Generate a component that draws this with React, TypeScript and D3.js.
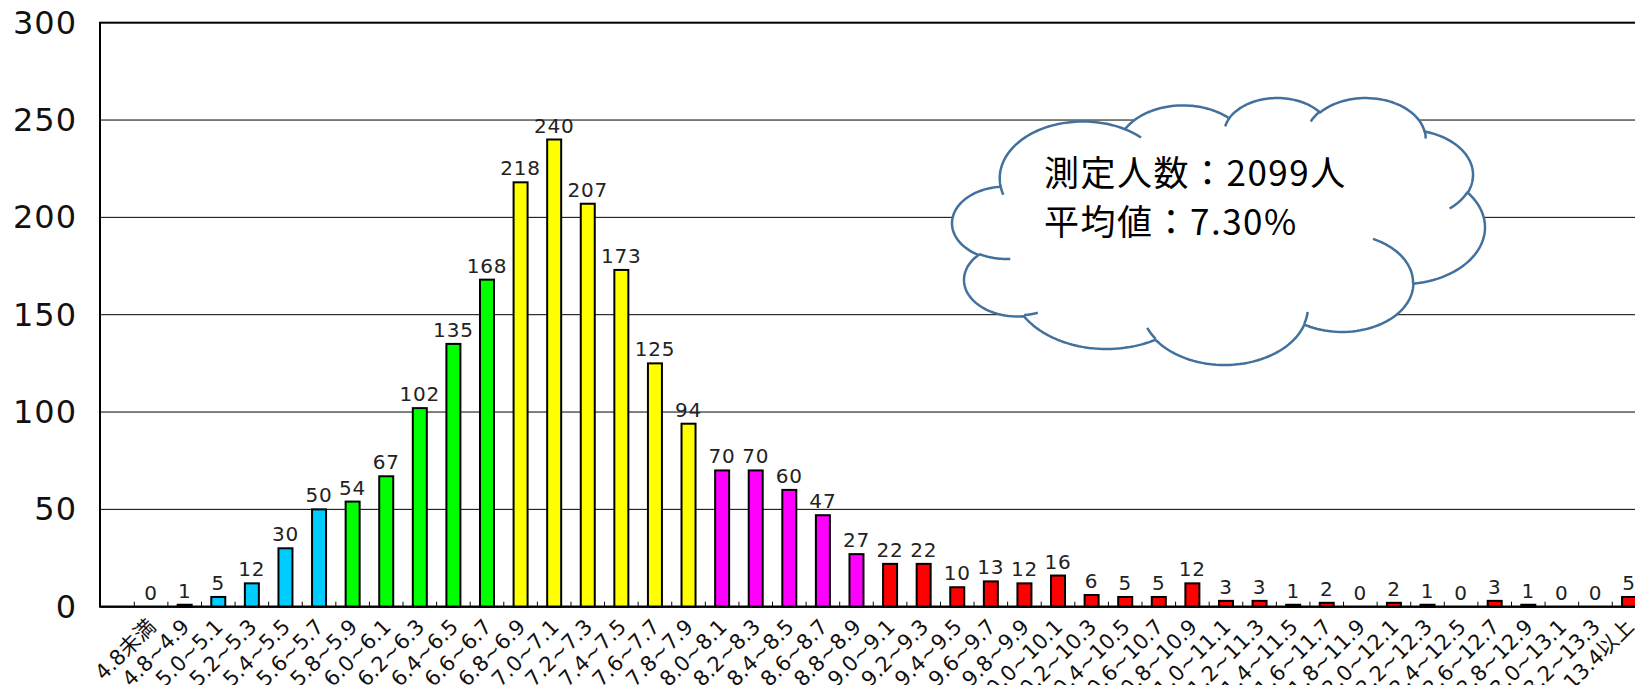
import * as d3 from "d3";
import { FC } from "react";

const CATEGORIES: string[] = [
  "4.8未満", "4.8~4.9", "5.0~5.1", "5.2~5.3", "5.4~5.5", "5.6~5.7", "5.8~5.9",
  "6.0~6.1", "6.2~6.3", "6.4~6.5", "6.6~6.7", "6.8~6.9", "7.0~7.1", "7.2~7.3",
  "7.4~7.5", "7.6~7.7", "7.8~7.9", "8.0~8.1", "8.2~8.3", "8.4~8.5", "8.6~8.7",
  "8.8~8.9", "9.0~9.1", "9.2~9.3", "9.4~9.5", "9.6~9.7", "9.8~9.9", "10.0~10.1",
  "10.2~10.3", "10.4~10.5", "10.6~10.7", "10.8~10.9", "11.0~11.1", "11.2~11.3",
  "11.4~11.5", "11.6~11.7", "11.8~11.9", "12.0~12.1", "12.2~12.3", "12.4~12.5",
  "12.6~12.7", "12.8~12.9", "13.0~13.1", "13.2~13.3", "13.4以上",
];

const COUNTS: number[] = [
  0, 1, 5, 12, 30, 50, 54, 67, 102, 135, 168, 218, 240, 207, 173, 125, 94, 70,
  70, 60, 47, 27, 22, 22, 10, 13, 12, 16, 6, 5, 5, 12, 3, 3, 1, 2, 0, 2, 1, 0,
  3, 1, 0, 0, 5,
];

const Y_TICKS: number[] = [0, 50, 100, 150, 200, 250, 300];

// first category of each colour band
const BAND_START: string[] = ["4.8未満", "5.8~5.9", "6.8~6.9", "8.0~8.1", "9.0~9.1"];
const BAND_COLORS: string[] = ["#00CCFF", "#00FF00", "#FFFF00", "#FF00FF", "#FF0000"];

const NOTE_LINES: string[] = ["測定人数：2099人", "平均値：7.30%"];

// Excel "cloud" preset geometry (43200 x 43200 space, angles in 60000ths of a degree)
const CLOUD_START: [number, number] = [3900, 14370];
const CLOUD_ARCS: number[][] = [
  [6753, 9190, -11429249, 7426832],
  [5333, 7267, -8646143, 5396714],
  [4365, 5945, -8748475, 5983381],
  [4857, 6595, -7859164, 7034504],
  [5333, 7273, -4722533, 6541615],
  [6775, 9220, -2776035, 7816140],
  [5785, 7867, 37501, 6842000],
  [6752, 9215, 1347096, 6910353],
  [7720, 10543, 3974558, 4542661],
  [4360, 5918, -16496525, 8804134],
  [4345, 5945, -14809710, 9151131],
];
const CLOUD_INNER: number[][] = [
  [4693, 26177, 4345, 5945, 5204520, 1585770],
  [6928, 34899, 4360, 5918, 4416628, 686848],
  [16478, 39090, 6752, 9215, 8257449, 844866],
  [28827, 34751, 6752, 9215, 387196, 959901],
  [34129, 22954, 5785, 7867, -4217541, 4255042],
  [41798, 15354, 5333, 7273, 1819082, 1665090],
  [38324, 5426, 4857, 6595, -824660, 891534],
  [29078, 3952, 4857, 6595, -8950887, 1091722],
  [22141, 4720, 4365, 5945, -9809656, 1061181],
  [14000, 5192, 6753, 9190, -4002417, 739161],
  [4127, 15789, 6753, 9190, 9459261, 711490],
];

const W = 1635;
const H = 685;
const PLOT_LEFT = 100;
const PLOT_TOP = 22.7;
const PLOT_BOTTOM = 606.7;
const FIRST_EDGE = 134.3;
const STEP = 33.59;
const BAR_W = 14;
const CLOUD_BOX = { x0: 952, y0: 98, x1: 1485, y1: 365 };

// point on ellipse seen from its centre at (visual) angle a
const ellOffset = (wR: number, hR: number, a: number): [number, number] => {
  const r = (wR * hR) / Math.sqrt((hR * Math.cos(a)) ** 2 + (wR * Math.sin(a)) ** 2);
  return [r * Math.cos(a), r * Math.sin(a)];
};

const arcPoints = (
  x: number,
  y: number,
  wR: number,
  hR: number,
  st: number,
  sw: number
): [number, number][] => {
  const a0 = (st / 60000) * (Math.PI / 180);
  const da = (sw / 60000) * (Math.PI / 180);
  const [ox, oy] = ellOffset(wR, hR, a0);
  const cx = x - ox;
  const cy = y - oy;
  const n = 48;
  return d3.range(n + 1).map((k) => {
    const [dx, dy] = ellOffset(wR, hR, a0 + (da * k) / n);
    return [cx + dx, cy + dy] as [number, number];
  });
};

const buildCloud = () => {
  let cur: [number, number] = CLOUD_START;
  const outline: [number, number][] = [cur];
  CLOUD_ARCS.forEach(([wR, hR, st, sw]) => {
    const pts = arcPoints(cur[0], cur[1], wR, hR, st, sw);
    outline.push(...pts.slice(1));
    cur = pts[pts.length - 1];
  });
  const inner = CLOUD_INNER.map(([x, y, wR, hR, st, sw]) =>
    arcPoints(x, y, wR, hR, st, sw)
  );
  const [minX, maxX] = d3.extent(outline, (p) => p[0]) as [number, number];
  const [minY, maxY] = d3.extent(outline, (p) => p[1]) as [number, number];
  const sx = d3.scaleLinear().domain([minX, maxX]).range([CLOUD_BOX.x0, CLOUD_BOX.x1]);
  const sy = d3.scaleLinear().domain([minY, maxY]).range([CLOUD_BOX.y0, CLOUD_BOX.y1]);
  const line = d3
    .line<[number, number]>()
    .x((p) => sx(p[0]))
    .y((p) => sy(p[1]));
  return {
    outline: (line(outline) || "") + "Z",
    inner: inner.map((pts) => line(pts) || ""),
  };
};

const App: FC = () => {
  const x = d3
    .scaleBand<string>()
    .domain(CATEGORIES)
    .range([FIRST_EDGE, FIRST_EDGE + STEP * CATEGORIES.length]);
  const y = d3.scaleLinear().domain([0, 300]).range([PLOT_BOTTOM, PLOT_TOP]);

  const colorOf = (cat: string) => {
    const idx = CATEGORIES.indexOf(cat);
    let c = BAND_COLORS[0];
    BAND_START.forEach((s, i) => {
      if (idx >= CATEGORIES.indexOf(s)) c = BAND_COLORS[i];
    });
    return c;
  };

  const cloud = buildCloud();
  const numFont = "'DejaVu Sans', 'Noto Sans CJK JP', sans-serif";

  return (
    <svg
      width={W}
      height={H}
      style={{ position: "absolute", left: 0, top: 0, background: "#fff" }}
    >
      {/* gridlines */}
      {Y_TICKS.filter((t) => t > 0 && t < 300).map((t) => (
        <line
          key={t}
          x1={PLOT_LEFT}
          x2={W + 20}
          y1={y(t)}
          y2={y(t)}
          stroke="#000"
          strokeWidth={1}
        />
      ))}
      {/* plot frame */}
      <rect
        x={PLOT_LEFT}
        y={PLOT_TOP}
        width={W + 40 - PLOT_LEFT}
        height={PLOT_BOTTOM - PLOT_TOP}
        fill="none"
        stroke="#000"
        strokeWidth={2}
      />
      {/* y labels */}
      {Y_TICKS.map((t) => (
        <text
          key={t}
          x={77}
          y={y(t)}
          textAnchor="end"
          dominantBaseline="central"
          fontFamily={numFont}
          fontSize={32}
          letterSpacing={1}
          fill="#111"
        >
          {t}
        </text>
      ))}
      {/* category tick marks */}
      {CATEGORIES.map((c) => (
        <line
          key={"t" + c}
          x1={x(c)!}
          x2={x(c)!}
          y1={PLOT_BOTTOM}
          y2={PLOT_BOTTOM - 5}
          stroke="#000"
          strokeWidth={1}
        />
      ))}
      {/* bars */}
      {CATEGORIES.map((c, i) =>
        COUNTS[i] > 0 ? (
          <rect
            key={"b" + c}
            x={x(c)! + x.bandwidth() / 2 - BAR_W / 2}
            y={y(COUNTS[i])}
            width={BAR_W}
            height={PLOT_BOTTOM - y(COUNTS[i])}
            fill={colorOf(c)}
            stroke="#000"
            strokeWidth={2}
          />
        ) : null
      )}
      <line
        x1={PLOT_LEFT}
        x2={W + 20}
        y1={PLOT_BOTTOM}
        y2={PLOT_BOTTOM}
        stroke="#000"
        strokeWidth={2}
      />
      {/* value labels */}
      {CATEGORIES.map((c, i) => (
        <text
          key={"v" + c}
          x={x(c)! + x.bandwidth() / 2}
          y={y(COUNTS[i]) - 7}
          textAnchor="middle"
          fontFamily={numFont}
          fontSize={20}
          letterSpacing={0.8}
          fill="#222"
        >
          {COUNTS[i]}
        </text>
      ))}
      {/* category labels */}
      {CATEGORIES.map((c) => {
        const cx = x(c)! + x.bandwidth() / 2 + 6;
        const cy = 628;
        return (
          <text
            key={"l" + c}
            transform={`translate(${cx},${cy}) rotate(-45)`}
            textAnchor="end"
            fontFamily={numFont}
            fontSize={21}
            fill="#111"
          >
            {c}
          </text>
        );
      })}
      {/* cloud callout */}
      <path d={cloud.outline} fill="#fff" stroke="#41719C" strokeWidth={2.5} />
      {cloud.inner.map((d, i) => (
        <path key={"ci" + i} d={d} fill="none" stroke="#41719C" strokeWidth={2.5} />
      ))}
      {NOTE_LINES.map((t, i) => (
        <text
          key={"n" + i}
          x={1044}
          y={186 + i * 48.5}
          fontFamily="'Noto Sans CJK JP', sans-serif"
          fontSize={35}
          letterSpacing={1.5}
          fill="#000"
        >
          {t}
        </text>
      ))}
    </svg>
  );
};

export default App;
